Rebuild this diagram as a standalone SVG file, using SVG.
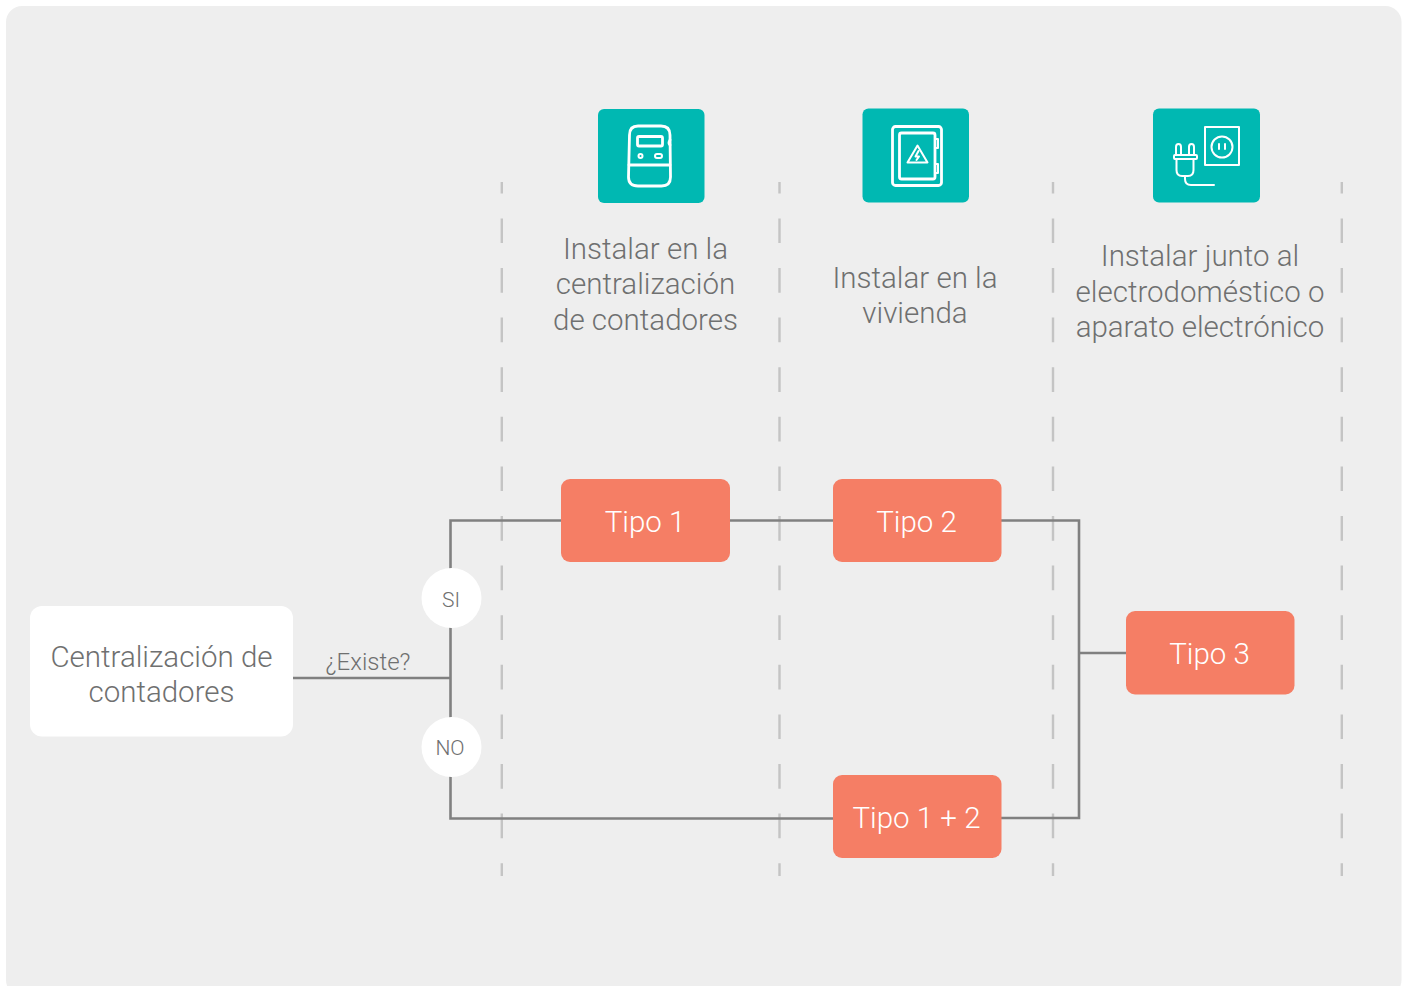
<svg xmlns="http://www.w3.org/2000/svg" width="1406" height="986" viewBox="0 0 1406 986">
<style>
text{font-family:Roboto,"Liberation Sans",sans-serif;font-weight:300;text-anchor:middle;fill:#6f7070}
.h{font-size:29.5px}
.t{font-size:29.500px;fill:#fff}
.l{font-size:24px}
.s{font-size:21px}
.d{stroke:#c4c4c4;stroke-width:2.4;fill:none;stroke-dasharray:24.7 24.9;stroke-dashoffset:13.2}
.c{stroke:#808080;stroke-width:2.6;fill:none}
.b{fill:#f57e65}
.i{fill:#00b8b2}
.w{stroke:#fff;stroke-width:2.800;fill:none;stroke-linejoin:round;stroke-linecap:round}
.w2{stroke:#fff;stroke-width:2;fill:none;stroke-linejoin:round;stroke-linecap:round}
</style>
<rect width="1406" height="986" fill="#fff"/>
<rect x="6" y="6" width="1395.500" height="990" rx="16" fill="#eeeeee"/>
<g id="guides">
<path class="d" d="M501.800 182V876"/>
<path class="d" d="M779.500 182V876"/>
<path class="d" d="M1053 182V876"/>
<path class="d" d="M1341.800 182V876"/>
</g>
<g id="connectors">
<path class="c" d="M293 678H450.500"/>
<path class="c" d="M561 520.500H450.500V818.500H833"/>
<path class="c" d="M730 520.500H833"/>
<path class="c" d="M1001 520.500H1079V818H1001"/>
<path class="c" d="M1079 653H1126"/>
</g>
<g id="icon-contadores">
<rect class="i" x="598" y="109" width="106.500" height="94" rx="6"/>
<path class="w" d="M638 126H661Q670 126 670 135L670.500 177Q670.500 186 661.500 186H638Q628.500 186 628.500 177L629.500 135Q629.500 126 638 126Z"/>
<rect class="w" x="637.500" y="136.500" width="25" height="9.500" rx="1.500"/>
<circle class="w2" cx="640.500" cy="156" r="2"/>
<rect class="w2" x="655" y="154" width="7" height="4" rx="2"/>
<path class="w" d="M629 165H670"/>
<path class="w" d="M670 140Q668 143 670 145"/>
</g>
<g id="icon-vivienda">
<rect class="i" x="862.500" y="108.500" width="106.500" height="94" rx="6"/>
<rect class="w" x="892.500" y="126.500" width="49" height="59" rx="3"/>
<rect class="w" x="899.500" y="133" width="35.500" height="46" rx="2"/>
<path class="w2" d="M935 139H938V148H935M935 164H938V173H935"/>
<path class="w2" d="M917.500 145.500L927.500 162.500H907.500Z"/>
<path class="w2" d="M918.500 151L915.500 156.500H919L916.500 160"/>
</g>
<g id="icon-aparato">
<rect class="i" x="1153" y="108.500" width="107" height="94" rx="6"/>
<rect class="w2" x="1205" y="127" width="34" height="38"/>
<circle class="w2" cx="1222" cy="147" r="10.500"/>
<path class="w2" d="M1219 144V149M1225 144V149"/>
<path class="w2" d="M1176 155V147Q1176 144 1178.500 144Q1181 144 1181 147V155M1189 155V147Q1189 144 1191.500 144Q1194 144 1194 147V155"/>
<rect class="w2" x="1174" y="155" width="23" height="4" rx="1"/>
<path class="w2" d="M1176.500 159V170Q1176.500 176 1182 176H1188Q1193.500 176 1193.500 170V159"/>
<path class="w2" d="M1185 176V179Q1185 185 1191 185H1214"/>
</g>
<g id="label-centralizacion">
<text class="h"><tspan x="645.500" y="258.700">Instalar en la</tspan><tspan x="645.500" y="294">centralización</tspan><tspan x="645.500" y="329.700">de contadores</tspan></text>
</g>
<g id="label-vivienda">
<text class="h"><tspan x="915" y="288">Instalar en la</tspan><tspan x="915" y="323">vivienda</tspan></text>
</g>
<g id="label-aparato">
<text class="h"><tspan x="1200" y="266">Instalar junto al</tspan><tspan x="1200" y="301.700">electrodoméstico o</tspan><tspan x="1200" y="337">aparato electrónico</tspan></text>
</g>
<g id="node-centralizacion">
<rect x="30" y="606" width="263" height="130.500" rx="12" fill="#fff"/>
<text class="h"><tspan x="161.500" y="667">Centralización de</tspan><tspan x="161.500" y="702">contadores</tspan></text>
</g>
<g id="label-existe"><text class="l" x="368" y="670">¿Existe?</text></g>
<g id="node-si">
<circle cx="451.500" cy="598" r="30" fill="#fff"/>
<text class="s" x="451" y="607">SI</text>
</g>
<g id="node-no">
<circle cx="451.500" cy="747" r="30" fill="#fff"/>
<text class="s" x="450" y="755">NO</text>
</g>
<g id="node-tipo1">
<rect class="b" x="561" y="479" width="169" height="83" rx="9"/>
<text class="t" x="645" y="532">Tipo 1</text>
</g>
<g id="node-tipo2">
<rect class="b" x="833" y="479" width="168.500" height="83" rx="9"/>
<text class="t" x="916.500" y="532">Tipo 2</text>
</g>
<g id="node-tipo3">
<rect class="b" x="1126" y="611" width="168.500" height="83.500" rx="9"/>
<text class="t" x="1209.500" y="664">Tipo 3</text>
</g>
<g id="node-tipo12">
<rect class="b" x="833" y="775" width="168.500" height="83" rx="9"/>
<text class="t" x="916.500" y="828">Tipo 1 + 2</text>
</g>
</svg>
